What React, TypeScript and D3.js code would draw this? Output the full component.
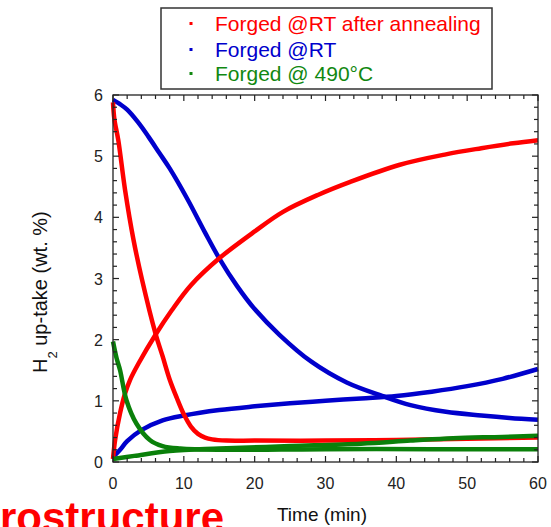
// H2 up-take kinetics: absorption and desorption curves for three forged samples
import React from 'react';
import * as d3 from 'd3';

type Pt = [number, number];

// time (min), H2 up-take (wt. %)
const redAbsorption: Pt[] = [[0, 0.05], [0.3, 0.36], [1, 0.8], [1.7, 1.12], [2.4, 1.34], [3.6, 1.61], [6, 2.08], [8.3, 2.48], [11, 2.89], [15, 3.33], [20, 3.77], [24, 4.09], [29, 4.37], [33.5, 4.58], [40.5, 4.86], [47, 5.03], [52, 5.13], [56.5, 5.21], [60, 5.26]];
const redDesorption: Pt[] = [[0, 5.88], [0.2, 5.6], [0.75, 5.26], [1.7, 4.45], [2.9, 3.63], [4.1, 2.98], [6, 2.1], [7, 1.73], [8, 1.35], [9, 1.05], [10, 0.78], [11, 0.58], [12, 0.46], [13, 0.4], [14, 0.37], [16, 0.35], [20, 0.35], [30, 0.35], [40, 0.36], [50, 0.38], [60, 0.4]];
const blueAbsorption: Pt[] = [[0, 0.08], [1, 0.2], [2, 0.34], [4, 0.52], [7, 0.68], [10, 0.76], [15, 0.85], [20, 0.91], [25, 0.96], [30, 1.0], [35, 1.04], [40, 1.08], [45, 1.15], [50, 1.24], [55, 1.36], [60, 1.52]];
const blueDesorption: Pt[] = [[0, 5.92], [1, 5.85], [2, 5.76], [3.5, 5.56], [5, 5.32], [6.5, 5.06], [8, 4.8], [10.5, 4.3], [13, 3.75], [15, 3.33], [17.5, 2.88], [20, 2.5], [23.5, 2.08], [28, 1.64], [33, 1.3], [38, 1.08], [42, 0.93], [47, 0.82], [52, 0.76], [56, 0.72], [60, 0.69]];
const greenAbsorption: Pt[] = [[0, 0.05], [3, 0.1], [8, 0.18], [15, 0.22], [25, 0.26], [35, 0.3], [42, 0.35], [48, 0.39], [55, 0.41], [60, 0.43]];
const greenDesorption: Pt[] = [[0, 1.97], [0.5, 1.7], [1, 1.5], [1.9, 1.01], [3.3, 0.63], [5.2, 0.36], [7, 0.26], [9.5, 0.22], [15, 0.2], [30, 0.21], [45, 0.21], [60, 0.21]];

const legendLabels = ['Forged @RT after annealing', 'Forged @RT', 'Forged @ 490°C'];
const legendColors = ['#ff0000', '#0000cc', '#118811'];
const xTicks = [0, 10, 20, 30, 40, 50, 60];
const yTicks = [0, 1, 2, 3, 4, 5, 6];

export default function App() {
  const W = 551, H = 527;
  const x = d3.scaleLinear().domain([0, 60]).range([113, 538]);
  const y = d3.scaleLinear().domain([0, 6]).range([462, 95]);
  const line = d3.line<Pt>().x(d => x(d[0])).y(d => y(d[1])).curve(d3.curveCatmullRom.alpha(0.5));

  const xMinor = d3.range(0, 61, 2);
  const yMinor = d3.range(0, 6.01, 0.2);
  const axisColor = '#222';
  const font = 'Arial, "Liberation Sans", sans-serif';

  const series = [
    { d: blueAbsorption, c: '#0000cc' },
    { d: blueDesorption, c: '#0000cc' },
    { d: redAbsorption, c: '#ff0000' },
    { d: redDesorption, c: '#ff0000' },
    { d: greenAbsorption, c: '#0a800a' },
    { d: greenDesorption, c: '#0a800a' },
  ];

  return (
    <svg width={W} height={H} style={{ position: 'absolute', left: 0, top: 0, background: '#fff' }} fontFamily={font}>
      {/* curves */}
      {series.map((s, i) => (
        <path key={i} d={line(s.d) || ''} fill="none" stroke={s.c} strokeWidth={4.5} strokeLinejoin="round" />
      ))}

      {/* frame */}
      <rect x={x(0)} y={y(6)} width={x(60) - x(0)} height={y(0) - y(6)} fill="none" stroke={axisColor} strokeWidth={1.3} />

      {/* x ticks, bottom and top */}
      {xMinor.map(t => {
        const len = t % 10 === 0 ? 6 : 4;
        return (
          <g key={'x' + t} stroke={axisColor} strokeWidth={1.2}>
            <line x1={x(t)} x2={x(t)} y1={y(0)} y2={y(0) - len} />
            <line x1={x(t)} x2={x(t)} y1={y(6)} y2={y(6) + len} />
          </g>
        );
      })}
      {/* y ticks, left and right */}
      {yMinor.map((v, i) => {
        const len = i % 5 === 0 ? 6 : 4;
        return (
          <g key={'y' + i} stroke={axisColor} strokeWidth={1.2}>
            <line x1={x(0)} x2={x(0) + len} y1={y(v)} y2={y(v)} />
            <line x1={x(60)} x2={x(60) - len} y1={y(v)} y2={y(v)} />
          </g>
        );
      })}

      {/* tick labels */}
      {xTicks.map(t => (
        <text key={'xl' + t} x={x(t)} y={489} textAnchor="middle" fontSize={16} fill={axisColor}>{t}</text>
      ))}
      {yTicks.map(v => (
        <text key={'yl' + v} x={103} y={y(v) + 6} textAnchor="end" fontSize={16} fill={axisColor}>{v}</text>
      ))}

      {/* axis titles */}
      <text x={322} y={521} textAnchor="middle" fontSize={19} fill="#111">Time (min)</text>
      <text transform="translate(47,373) rotate(-90)" fontSize={20} fill="#111">
        H<tspan fontSize={13} dy={10}>2</tspan><tspan dy={-10}> up-take (wt. %)</tspan>
      </text>

      {/* slide heading, cut by the picture edge */}
      <text x={224} y={532} textAnchor="end" fontSize={42} fontWeight="bold" fill="#ff0000">Microstructure</text>

      {/* legend */}
      <rect x={161} y={8} width={331} height={81} fill="#fff" stroke="#333" strokeWidth={1.5} />
      {legendLabels.map((l, i) => (
        <g key={l}>
          <rect x={189.5} y={[22, 48, 72][i]} width={3} height={3} fill={legendColors[i]} />
          <text x={215} y={[31, 57, 81][i]} fontSize={21} fill={legendColors[i]}>{l}</text>
        </g>
      ))}
    </svg>
  );
}
